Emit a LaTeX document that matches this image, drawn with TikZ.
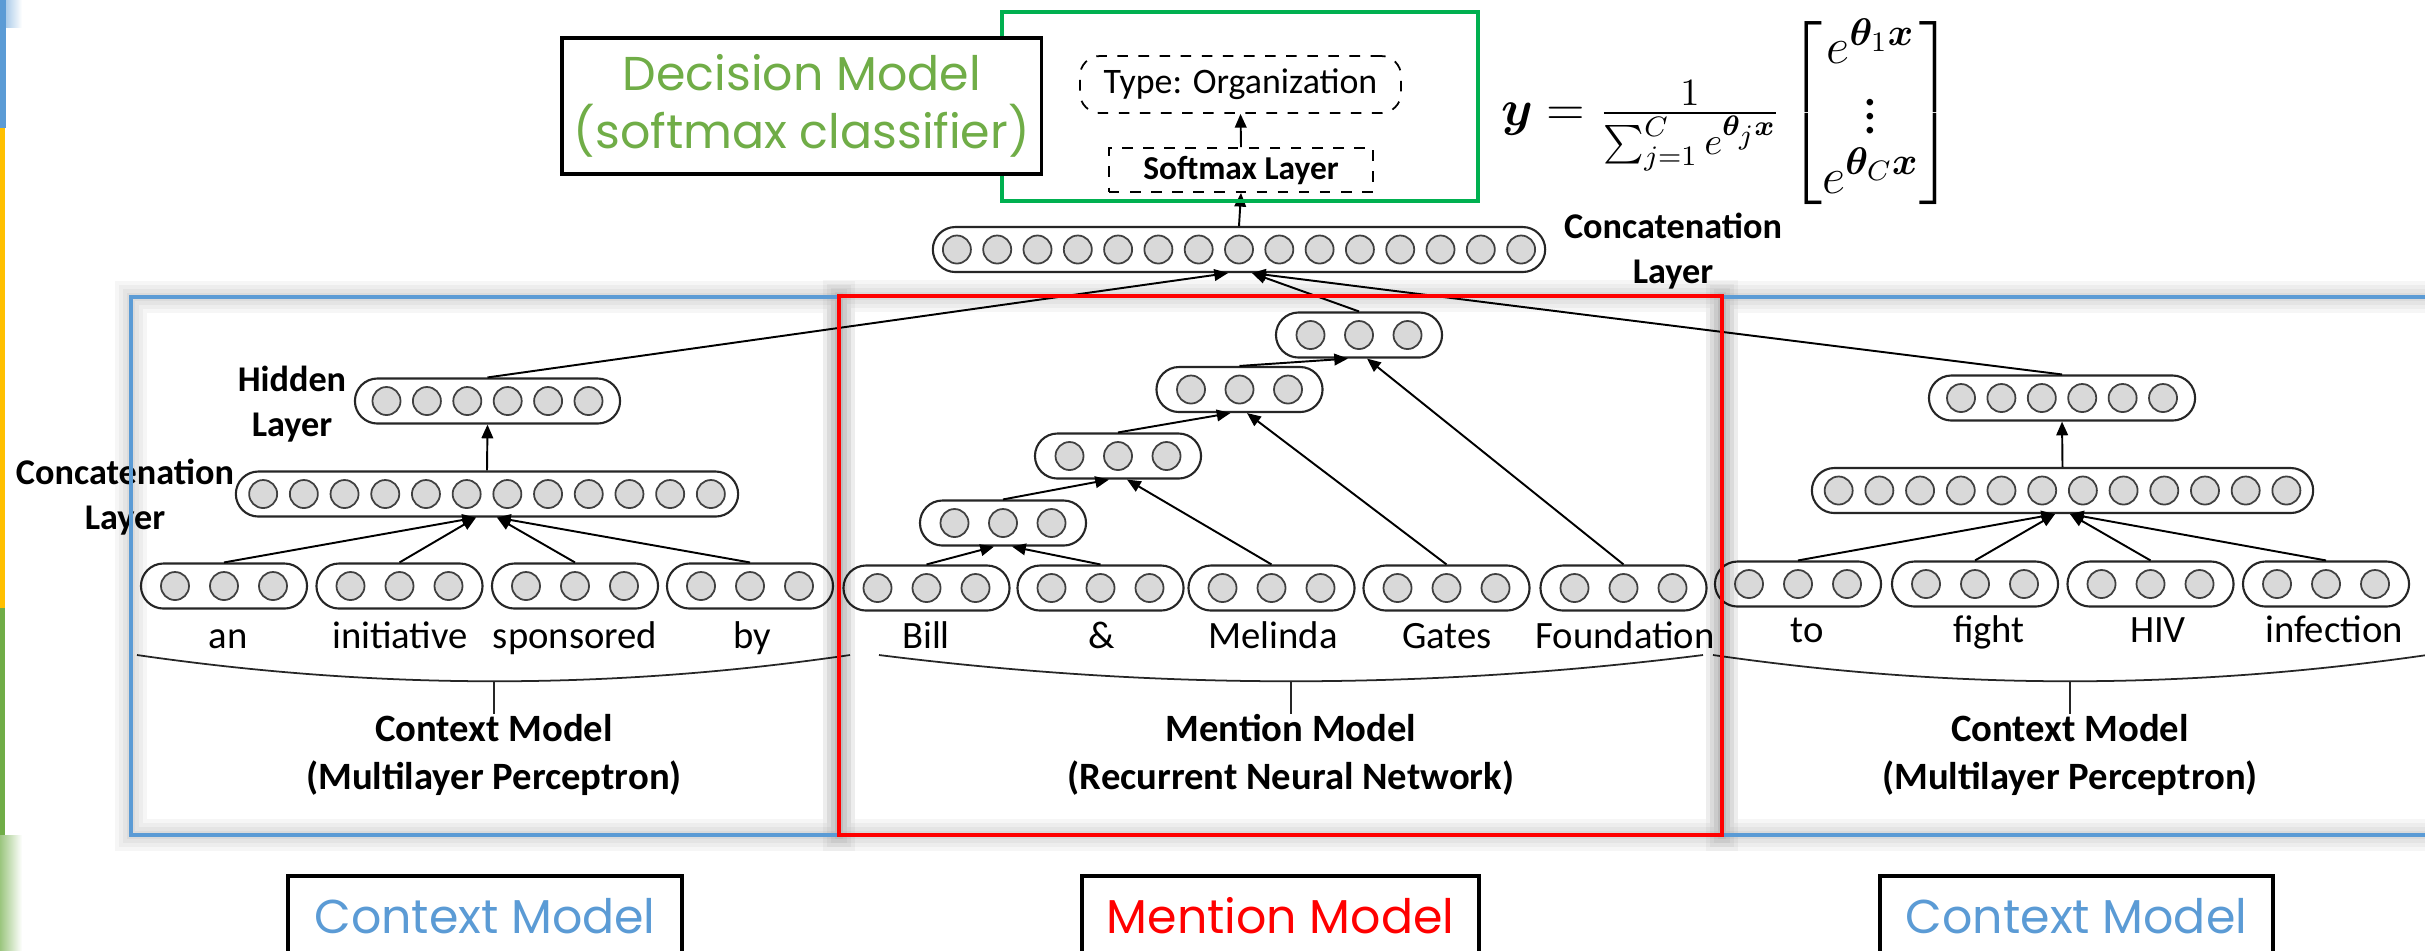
\documentclass[tikz,border=0pt]{standalone}
\usepackage{fontspec}
\usepackage{amsmath}
\usepackage{bm}
\setmainfont{Carlito}
\newfontfamily\gothic{Poppins}
\usetikzlibrary{arrows.meta, calc}

\definecolor{themeblue}{RGB}{91,155,213}
\definecolor{themered}{RGB}{255,0,0}
\definecolor{themegreen}{RGB}{112,173,71}
\definecolor{themeyellow}{RGB}{255,192,0}
\definecolor{decisiongreen}{RGB}{0,176,80}
\definecolor{unitgray}{RGB}{217,217,217}

\newcommand{\pillheight}{0.45cm}
\newcommand{\unitsize}{0.28cm}
\newcommand{\wordwidth}{1.66cm}

\tikzstyle{vec} = [% vector layer
  rectangle,
  rounded corners=0.225cm,
  minimum height=\pillheight,
  inner sep=0pt,
  draw=black!85,
  line width=0.6pt
  ]
\tikzstyle{unit} = [% single neuron
  circle,
  minimum size=\unitsize,
  inner sep=0pt,
  draw=black!75,
  line width=0.5pt,
  fill=unitgray
  ]
\tikzstyle{arrow} = [% arrow format
  line width=0.55pt,
  ->,
  >={Triangle[length=3.9pt,width=3.3pt]}
  ]
\tikzstyle{brace} = [line width=0.5pt, black!85]
\tikzstyle{word} = [% input token
  font=\fontsize{11}{13}\selectfont,
  anchor=base,
  inner sep=0pt
  ]
\tikzstyle{layername} = [% layer caption
  font=\bfseries\fontsize{10.3}{12.8}\selectfont,
  align=center,
  inner sep=0pt
  ]
\tikzstyle{modelname} = [% sub-model caption
  font=\bfseries\fontsize{11}{13.4}\selectfont,
  align=center,
  anchor=north,
  inner sep=0pt
  ]
\tikzstyle{tag} = [% slide caption box
  rectangle,
  draw=black,
  line width=1pt,
  fill=white,
  font=\gothic\fontsize{13.5}{16.5}\selectfont,
  align=center
  ]
\tikzstyle{frame} = [line width=0.9pt]

% vector layer: name, centre, width, units, unit spacing
\newcommand{\veclayer}[5]{%
  \node[vec, minimum width=#3] (#1) at #2 {};
  \foreach \i in {1,...,#4}
    \node[unit] (#1-\i) at ($(#1)+({(\i-(#4+1)/2)*#5},0)$) {};
}
% soft grey glow round a frame
\newcommand{\softshadow}[2]{%
  \foreach \w in {3.2mm,2.4mm,1.6mm,0.8mm}
    \draw[black, draw opacity=0.035, line width=\w] #1 rectangle #2;
}

\begin{document}
\begin{tikzpicture}[x=0.01cm, y=-0.01cm]
\useasboundingbox (0,0) rectangle (2425,950);
\clip (0,0) rectangle (2425,950);
\fill[white] (0,0) rectangle (2425,950);

%%% theme strip on the left edge
\fill[themeblue] (0,0) rectangle (6,128);
\shade[left color=themeblue!50, right color=white] (6,0) rectangle (22,27);
\fill[themeyellow] (0,128) rectangle (5,608);
\fill[themegreen] (0,608) rectangle (5,835);
\shade[left color=themegreen!70, right color=white] (0,835) rectangle (22,950);

%%% left context: word vectors
\veclayer{an}{(224,586)}{\wordwidth}{3}{49}
\veclayer{initiative}{(399.5,586)}{\wordwidth}{3}{49}
\veclayer{sponsored}{(575,586)}{\wordwidth}{3}{49}
\veclayer{by}{(750,586)}{\wordwidth}{3}{49}
\veclayer{lcat}{(487,494)}{5.02cm}{12}{40.7}
\veclayer{lhidden}{(487.5,401)}{2.65cm}{6}{40.4}

\node[word] (w-an) at (228,648) {an};
\node[word] (w-initiative) at (400,648) {initiative};
\node[word] (w-sponsored) at (575,648) {sponsored};
\node[word] (w-by) at (752,648) {by};

\draw[arrow] (an.north) -- ([xshift=-0.11cm]lcat.south);
\draw[arrow] (initiative.north) -- ([xshift=-0.11cm]lcat.south);
\draw[arrow] (sponsored.north) -- ([xshift=0.10cm]lcat.south);
\draw[arrow] (by.north) -- ([xshift=0.10cm]lcat.south);
\draw[arrow] (lcat.north) -- (lhidden.south);

\node[layername] (hiddencap) at (292,404) {Hidden\\Layer};
\node[layername] (lcatcap) at (125,497) {Concatenation\\Layer};

%%% mention: recursive composition
\veclayer{bill}{(926.5,588)}{\wordwidth}{3}{49}
\veclayer{amp}{(1100.5,588)}{\wordwidth}{3}{49}
\veclayer{melinda}{(1271.5,588)}{\wordwidth}{3}{49}
\veclayer{gates}{(1446.5,588)}{\wordwidth}{3}{49}
\veclayer{foundation}{(1623.5,588)}{\wordwidth}{3}{49}
\veclayer{r1}{(1003,523)}{\wordwidth}{3}{48.5}
\veclayer{r2}{(1118,456)}{\wordwidth}{3}{48.5}
\veclayer{r3}{(1239.5,389.5)}{\wordwidth}{3}{48.5}
\veclayer{r4}{(1359,335)}{\wordwidth}{3}{48.5}

\node[word] (w-bill) at (926,648) {Bill};
\node[word] (w-amp) at (1102,648) {\&};
\node[word] (w-melinda) at (1273,648) {Melinda};
\node[word] (w-gates) at (1447,648) {Gates};
\node[word] (w-foundation) at (1625,648) {Foundation};

\draw[arrow] (bill.north) -- ([xshift=-0.09cm]r1.south);
\draw[arrow] (amp.north) -- ([xshift=0.09cm]r1.south);
\draw[arrow] (r1.north) -- ([xshift=-0.09cm]r2.south);
\draw[arrow] (melinda.north) -- ([xshift=0.09cm]r2.south);
\draw[arrow] (r2.north) -- ([xshift=-0.09cm]r3.south);
\draw[arrow] (gates.north) -- ([xshift=0.075cm]r3.south);
\draw[arrow] (r3.north) -- ([xshift=-0.11cm]r4.south);
\draw[arrow] (foundation.north) -- ([xshift=0.08cm]r4.south);

%%% right context: word vectors
\veclayer{to}{(1798,584)}{\wordwidth}{3}{49}
\veclayer{fight}{(1975,584)}{\wordwidth}{3}{49}
\veclayer{hiv}{(2150.5,584)}{\wordwidth}{3}{49}
\veclayer{infection}{(2326,584)}{\wordwidth}{3}{49}
\veclayer{rcat}{(2062.5,490.5)}{5.01cm}{12}{40.7}
\veclayer{rhidden}{(2062,398)}{2.66cm}{6}{40.4}

\node[word] (w-to) at (1807,642) {to};
\node[word] (w-fight) at (1989,642) {fight};
\node[word] (w-hiv) at (2158,642) {HIV};
\node[word] (w-infection) at (2334,642) {infection};

\draw[arrow] (to.north) -- ([xshift=-0.075cm]rcat.south);
\draw[arrow] (fight.north) -- ([xshift=-0.075cm]rcat.south);
\draw[arrow] (hiv.north) -- ([xshift=0.075cm]rcat.south);
\draw[arrow] (infection.north) -- ([xshift=0.075cm]rcat.south);
\draw[arrow] (rcat.north) -- (rhidden.south);

%%% braces under the sentence
\coordinate (lb-l) at (137,655);
\coordinate (lb-r) at (850,655);
\coordinate (lb-m) at (494,681);
\coordinate (mb-l) at (879,655);
\coordinate (mb-r) at (1703,655);
\coordinate (mb-m) at (1291,681);
\coordinate (rb-l) at (1713,655);
\coordinate (rb-r) at (2427,655);
\coordinate (rb-m) at (2070,681);
\draw[brace] (lb-l) .. controls (380,690) and (610,690) .. (lb-r);
\draw[brace] (mb-l) .. controls (1159,690) and (1423,690) .. (mb-r);
\draw[brace] (rb-l) .. controls (1956,690) and (2184,690) .. (rb-r);

\node[modelname] (lctxname) at (494,714) {Context Model\\(Multilayer Perceptron)};
\node[modelname] (mentionname) at (1291,714) {Mention Model\\(Recurrent Neural Network)};
\node[modelname] (rctxname) at (2070,714) {Context Model\\(Multilayer Perceptron)};
\draw[brace] (lb-m) -- (lctxname.north);
\draw[brace] (mb-m) -- (mentionname.north);
\draw[brace] (rb-m) -- (rctxname.north);

%%% concatenation and softmax
\veclayer{topcat}{(1239,249.5)}{6.12cm}{15}{40.3}
\node[layername] (topcatcap) at (1673,251) {Concatenation\\Layer};

\draw[arrow] (lhidden.north) -- ([xshift=-0.11cm]topcat.south);
\draw[arrow] (r4.north) -- ([xshift=0.13cm]topcat.south);
\draw[arrow] (rhidden.north) -- ([xshift=0.13cm]topcat.south);

\node[draw, dashed, line width=0.5pt, minimum width=2.64cm, minimum height=0.44cm,
  inner sep=0pt, font=\bfseries\fontsize{9.5}{11}\selectfont] (softmax) at (1241,170) {Softmax Layer};
\node[draw, dashed, line width=0.5pt, rounded corners=0.2cm, minimum width=3.21cm,
  minimum height=0.57cm, inner sep=0pt, font=\fontsize{10.2}{12}\selectfont] (otype) at (1240.5,84.5) {Type: Organization};
\draw[arrow] (topcat.north) -- (softmax.south);
\draw[arrow] (softmax.north) -- (otype.south);

\draw[decisiongreen, line width=0.9pt] (1002,12) rectangle (1478,201);

\node[inner sep=0pt] (softmaxeq) at (1727,113) {\fontsize{15.5}{17}\selectfont
  \renewcommand{\arraystretch}{0.8}%
  $\bm{y}=\frac{1}{\sum_{j=1}^{C}e^{\bm{\theta}_j\bm{x}}}
  \begin{bmatrix}e^{\bm{\theta}_1\bm{x}}\\ \vdots\\ e^{\bm{\theta}_C\bm{x}}\end{bmatrix}$};

%%% sub-model frames
\softshadow{(131,297)}{(839,835)}
\softshadow{(1722,297)}{(2460,835)}
\softshadow{(839,296)}{(1722,835)}
\draw[frame, themeblue] (131,297) rectangle (839,835);
\draw[frame, themeblue] (1722,297) rectangle (2460,835);
\draw[frame, themered] (839,296) rectangle (1722,835);

%%% caption boxes
\node[tag, text=themegreen, minimum width=4.645cm, minimum height=1.36cm] (decision) at (801.75,106) {Decision Model\\(softmax classifier)};
\node[tag, text=themeblue, minimum width=3.94cm, text height=0.58cm, text depth=0.45cm,
  inner ysep=0pt, anchor=north] (lctxtag) at (485,874) {Context Model};
\node[tag, text=themered, minimum width=3.97cm, text height=0.58cm, text depth=0.45cm,
  inner ysep=0pt, anchor=north] (mentiontag) at (1280.5,874) {Mention Model};
\node[tag, text=themeblue, minimum width=3.93cm, text height=0.58cm, text depth=0.45cm,
  inner ysep=0pt, anchor=north] (rctxtag) at (2076.5,874) {Context Model};

\end{tikzpicture}
\end{document}
